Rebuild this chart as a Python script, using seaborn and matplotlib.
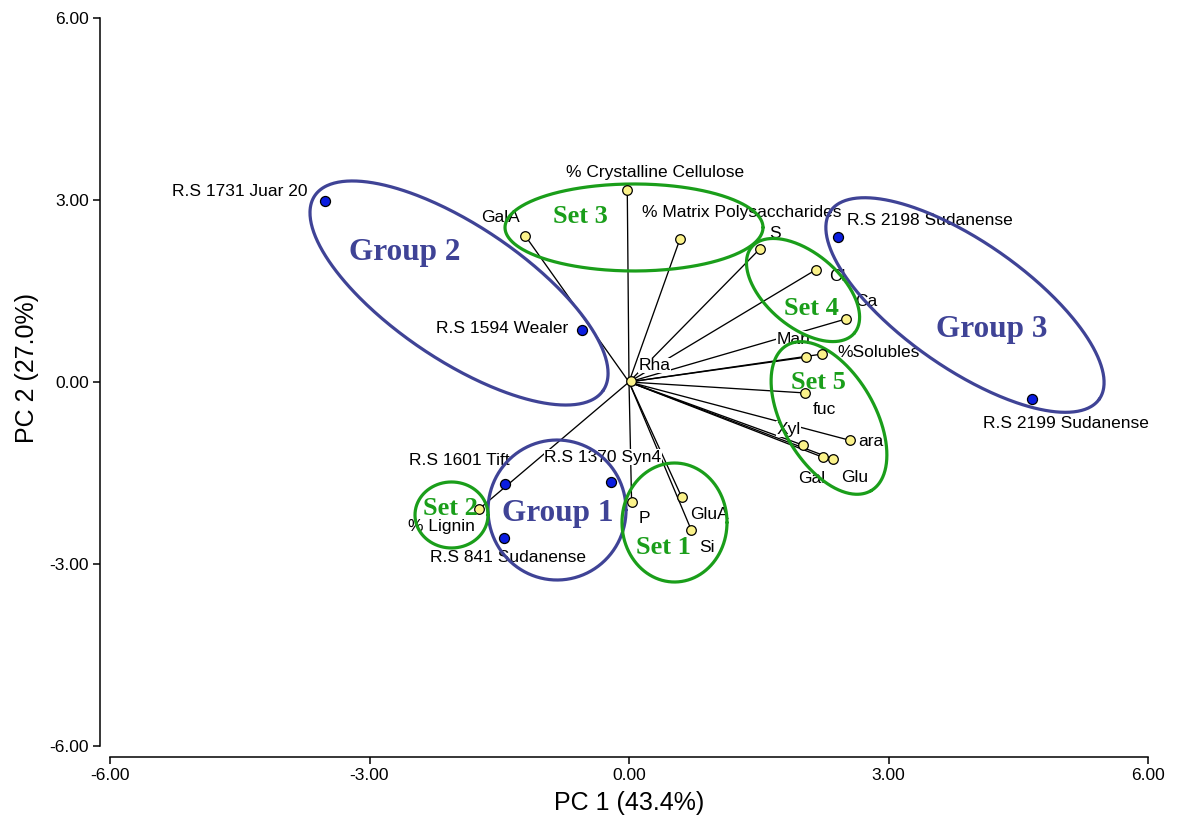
import numpy as np
import pandas as pd
import matplotlib
matplotlib.use("Agg")
import matplotlib.pyplot as plt
from matplotlib.ticker import FormatStrFormatter
import seaborn as sns

# ---------------- data ----------------
sample_names = ["R.S 1731 Juar 20", "R.S 1594 Wealer", "R.S 2198 Sudanense",
                "R.S 2199 Sudanense", "R.S 1601 Tift", "R.S 1370 Syn4",
                "R.S 841 Sudanense"]
sample_pc1 = [-3.51, -0.54, 2.42, 4.66, -1.43, -0.21, -1.45]
sample_pc2 = [2.98, 0.86, 2.39, -0.28, -1.68, -1.65, -2.57]

var_names = ["% Crystalline Cellulose", "% Matrix Polysaccharides", "GalA", "S",
             "Cl", "Ca", "Man", "%Solubles", "Rha", "fuc", "Xyl", "ara", "Gal",
             "Glu", "% Lignin", "P", "GluA", "Si"]
var_pc1 = [-0.02, 0.59, -1.20, 1.51, 2.16, 2.51, 2.05, 2.23, 0.02, 2.03, 2.01,
           2.55, 2.24, 2.36, -1.73, 0.03, 0.61, 0.72]
var_pc2 = [3.17, 2.36, 2.41, 2.19, 1.85, 1.04, 0.41, 0.46, 0.01, -0.18, -1.04,
           -0.96, -1.24, -1.27, -2.09, -1.98, -1.90, -2.44]

x_ticks = [-6, -3, 0, 3, 6]
y_ticks = [-6, -3, 0, 3, 6]
x_title = "PC 1 (43.4%)"
y_title = "PC 2 (27.0%)"

# cluster outlines: name, centre (PC1, PC2)
cluster_names = ["Group 2", "Group 3", "Group 1", "Set 2", "Set 1", "Set 3", "Set 4", "Set 5"]
cluster_cx = [-1.965, 3.884, -0.832, -2.052, 0.526, 0.058, 2.012, 2.312]
cluster_cy = [1.467, 1.269, -2.110, -2.192, -2.316, 2.547, 1.516, -0.593]

# ---------------- styling / layout ----------------
BLUE = "#3f4396"
GREEN = "#1a9e1a"
cluster_style = {  # semi-axes (px), angle (deg), colour, label pos (PC1, PC2), font size
    "Group 2": (174, 67, -34, BLUE, (-2.590, 2.011), 22.5),
    "Group 3": (164, 63, -35, BLUE, (4.197, 0.742), 22.5),
    "Group 1": (69, 70, 0, BLUE, (-0.821, -2.291), 22.5),
    "Set 2": (36.5, 33, 0, GREEN, (-2.069, -2.192), 19),
    "Set 1": (52.5, 59.5, 0, GREEN, (0.393, -2.835), 19),
    "Set 3": (129, 43.5, 0, GREEN, (-0.566, 2.621), 19),
    "Set 4": (67, 37, -40, GREEN, (2.110, 1.104), 19),
    "Set 5": (84, 46, -60, GREEN, (2.191, -0.115), 19),
}
sample_offsets = {  # (dx px, dy px, ha)
    "R.S 1731 Juar 20": (-18, 10, "right"),
    "R.S 1594 Wealer": (-14, 1, "right"),
    "R.S 2198 Sudanense": (9, 17, "left"),
    "R.S 2199 Sudanense": (34, -25, "center"),
    "R.S 1601 Tift": (4, 23, "right"),
    "R.S 1370 Syn4": (-8, 25, "center"),
    "R.S 841 Sudanense": (4, -20, "center"),
}
var_offsets = {
    "% Crystalline Cellulose": (28, 17, "center"),
    "% Matrix Polysaccharides": (-38, 26, "left"),
    "GalA": (-25, 18, "center"),
    "S": (15, 16, "center"),
    "Cl": (13, -7, "left"),
    "Ca": (9, 17, "left"),
    "Man": (-13, 18, "center"),
    "%Solubles": (15, 2, "left"),
    "Rha": (8, 16, "left"),
    "fuc": (20, -17, "center"),
    "Xyl": (-14, 16, "center"),
    "ara": (9, -1, "left"),
    "Gal": (-11, -21, "center"),
    "Glu": (22, -18, "center"),
    "% Lignin": (-38, -18, "center"),
    "P": (13, -16, "center"),
    "GluA": (28, -17, "center"),
    "Si": (16, -17, "center"),
}

sns.set_style("ticks")
plt.rcParams["font.family"] = ["Liberation Sans", "DejaVu Sans"]

W, H = 1181, 817
fig = plt.figure(figsize=(W / 100, H / 100), dpi=100)
ax = fig.add_axes([110 / W, 71 / H, 1038 / W, 728 / H])
ax.set_xlim(-6, 6)
ax.set_ylim(-6, 6)

samples = pd.DataFrame({"name": sample_names, "PC1": sample_pc1, "PC2": sample_pc2})
variables = pd.DataFrame({"name": var_names, "PC1": var_pc1, "PC2": var_pc2})

# loading vectors
for _, r in variables.iterrows():
    ax.plot([0, r.PC1], [0, r.PC2], color="black", lw=0.95, zorder=1,
            solid_capstyle="butt")

sns.scatterplot(data=variables, x="PC1", y="PC2", color="#fbf28a",
                edgecolor="black", linewidth=0.9, s=48, zorder=6, ax=ax,
                legend=False)
sns.scatterplot(data=samples, x="PC1", y="PC2", color="#0b1de0",
                edgecolor="black", linewidth=0.9, s=52, zorder=6, ax=ax,
                legend=False)

# labels
for _, r in samples.iterrows():
    dx, dy, ha = sample_offsets[r["name"]]
    ax.annotate(r["name"], (r.PC1, r.PC2), xytext=(dx, dy),
                textcoords="offset pixels", ha=ha, va="center",
                fontsize=12.5, color="black", zorder=3,
                bbox=dict(boxstyle="square,pad=0.02", fc="white", ec="none"))
for _, r in variables.iterrows():
    dx, dy, ha = var_offsets[r["name"]]
    ax.annotate(r["name"], (r.PC1, r.PC2), xytext=(dx, dy),
                textcoords="offset pixels", ha=ha, va="center",
                fontsize=12.5, color="black", zorder=3,
                bbox=dict(boxstyle="square,pad=0.02", fc="white", ec="none"))

# cluster ellipses (semi-axes given in screen pixels)
fig.canvas.draw()
p0 = ax.transData.transform((0, 0))
sx = ax.transData.transform((1, 0))[0] - p0[0]
sy = ax.transData.transform((0, 1))[1] - p0[1]
t = np.linspace(0, 2 * np.pi, 400)
for name, cx, cy in zip(cluster_names, cluster_cx, cluster_cy):
    a, b, ang, col, (lx, ly), fs = cluster_style[name]
    th = np.deg2rad(ang)
    dxp = a * np.cos(t) * np.cos(th) - b * np.sin(t) * np.sin(th)
    dyp = a * np.cos(t) * np.sin(th) + b * np.sin(t) * np.cos(th)
    ax.plot(cx + dxp / sx, cy + dyp / sy, color=col, lw=2.3, zorder=4)
    ax.text(lx, ly, name, ha="center", va="baseline", color=col,
            fontsize=fs, fontweight="bold", family=["Liberation Serif"],
            zorder=7)

# axes
ax.set_xticks(x_ticks)
ax.set_yticks(y_ticks)
ax.xaxis.set_major_formatter(FormatStrFormatter("%.2f"))
ax.yaxis.set_major_formatter(FormatStrFormatter("%.2f"))
ax.tick_params(direction="out", length=5, width=1.1, labelsize=12.5,
               colors="black", pad=3)
for sp in ax.spines.values():
    sp.set_linewidth(1.1)
    sp.set_color("black")
sns.despine(ax=ax, offset={"left": 7.2, "bottom": 8})

ax.set_xlabel(x_title, fontsize=18, color="black")
ax.set_ylabel(y_title, fontsize=18, color="black")
ax.xaxis.set_label_coords(0.5, (746 - 803) / 728)
ax.xaxis.label.set_va("center")
ax.yaxis.set_label_coords((27 - 110) / 1038, (746 - 368) / 728)
ax.yaxis.label.set_va("center")

fig.savefig("out.png", dpi=100)
